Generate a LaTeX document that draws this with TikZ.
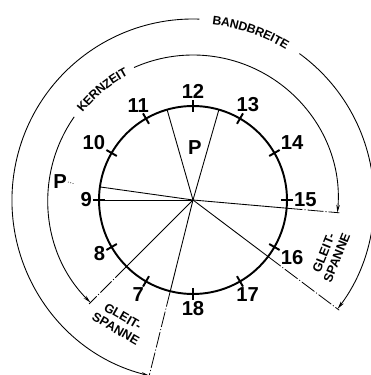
\documentclass[tikz,border=0pt]{standalone}
\usepackage{fontspec}
\setsansfont{Liberation Sans}
\usetikzlibrary{arrows.meta,decorations.text}

\begin{document}
\begin{tikzpicture}[x=0.02cm,y=0.02cm,
  hour/.style={font=\sffamily\bfseries\fontsize{11.5}{13}\selectfont,inner sep=0.5pt},
  tag/.style={font=\sffamily\bfseries\fontsize{7.2}{8}\selectfont,align=center,inner sep=0pt},
  ray/.style={line width=0.5pt},
  ext/.style={line width=0.45pt,dash pattern=on 9pt off 1.2pt on 0.6pt off 1.2pt},
  span/.style={line width=0.5pt,{Stealth[length=4.5pt,width=2pt]}-},
  arctext/.style={decorate,decoration={text along path,text align=center,raise=-2.6pt,
    text={|\sffamily\bfseries\fontsize{7}{8}\selectfont|#1}}}]
  \useasboundingbox (-193,-175) rectangle (178,200);
  \coordinate (O) at (0,0);
  \draw[line width=1.1pt] (O) circle (94);
  \foreach \h in {7,...,18}
    {\pgfmathtruncatemacro\a{90-30*(\h-12)}\pgfmathtruncatemacro\b{\a+180}
     \draw[line width=1.1pt] (\a:88) -- (\a:100);
     \node[hour,anchor=\b] (h\h) at (\a:100) {\h};}
  \foreach \a/\n in {172/pa,180/pb,106/pc,74/pd}
    {\coordinate (\n) at (\a:94); \draw[ray] (O) -- (\n);}
  \foreach \a/\r/\n in {225/147/kza,-5/147/kzb,256/182/bba,-37/183/bbb}
    {\coordinate (c\n) at (\a:94); \coordinate (\n) at (\a:\r);
     \draw[ray] (O) -- (c\n); \draw[ext] (c\n) -- (\n);}
  \draw[span] (225:145) arc[start angle=225,end angle=145,radius=145];
  \draw[span] (-5:145) arc[start angle=-5,end angle=114,radius=145];
  \path[arctext=KERNZEIT] (145:145) arc[start angle=145,end angle=114,radius=145];
  \draw[span] (256:181) arc[start angle=256,end angle=88,radius=181];
  \draw[span] (-37:181) arc[start angle=-37,end angle=54,radius=181];
  \path[arctext=BANDBREITE] (88:181) arc[start angle=88,end angle=54,radius=181];
  \node[tag,rotate=-30] (gsl) at (239:143) {GLEIT-\\SPANNE};
  \node[tag,rotate=68] (gsr) at (-22:148) {GLEIT-\\SPANNE};
  \node[hour] (ptop) at (88:52) {P};
  \node[hour] (pleft) at (-133,18) {P};
  \coordinate (pdot) at (-118,16);
  \draw[densely dotted,line width=0.4pt] (pleft.east) -- (pdot);
\end{tikzpicture}
\end{document}
